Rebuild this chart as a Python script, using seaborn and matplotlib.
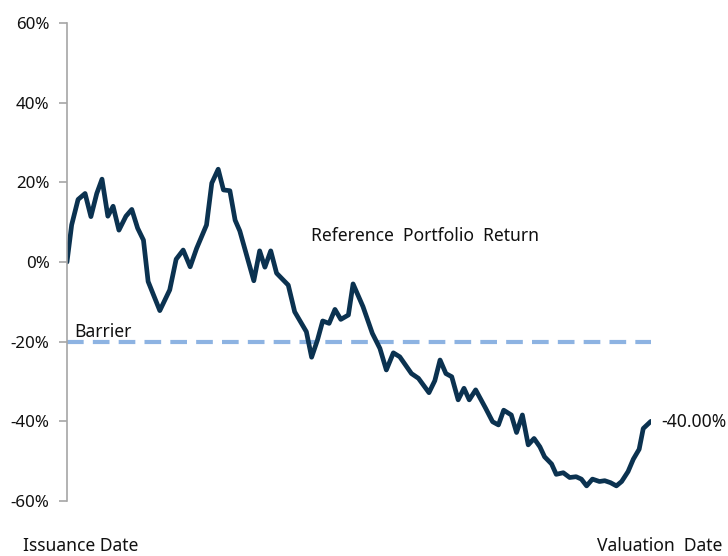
import matplotlib
matplotlib.use("Agg")
import matplotlib.pyplot as plt
import seaborn as sns
import pandas as pd
from matplotlib.ticker import FuncFormatter

# ---- data ----
days = [0, 0.8, 1.9, 3.1, 4.1, 5.1, 6.0, 7.0, 7.9, 8.9, 10.1, 11.1, 12.1, 13.1, 13.9,
        15.9, 17.6, 18.7, 19.9, 21.1, 22.2, 23.9, 24.8, 25.9, 26.8, 27.9, 28.8, 29.6,
        31.0, 32.0, 33.0, 33.9, 34.9, 35.9, 37.9, 39.0, 41.0, 41.9, 42.9, 43.8, 44.9,
        45.9, 46.9, 48.2, 49.0, 50.7, 52.3, 53.6, 54.7, 55.9, 57.0, 59.0, 60.2, 62.0,
        63.0, 63.9, 64.9, 65.9, 67.0, 68.0, 68.9, 70.0, 71.7, 72.9, 73.9, 74.8, 76.1,
        77.0, 78.0, 79.0, 80.0, 81.0, 81.8, 83.0, 83.8, 85.0, 86.1, 87.2, 88.1, 89.0,
        90.0, 91.2, 92.1, 93.1, 94.1, 95.0, 96.1, 97.0, 98.0, 98.7, 100]
returns = [0, 9.3, 15.7, 17.2, 11.4, 17.2, 20.8, 11.5, 14.0, 8.0, 11.5, 13.2, 8.5, 5.5, -4.9,
           -12.2, -7.0, 0.7, 3.0, -1.2, 3.4, 9.3, 19.8, 23.3, 18.1, 17.9, 10.5, 7.8,
           0.5, -4.7, 2.8, -1.3, 2.8, -2.8, -5.8, -12.5, -17.5, -23.9, -19.6, -14.8, -15.4,
           -11.9, -14.4, -13.3, -5.5, -11.2, -17.9, -21.7, -27.1, -22.8, -23.8, -28.0, -29.2, -32.8,
           -29.8, -24.6, -28.0, -28.8, -34.6, -31.7, -34.6, -32.1, -36.7, -40.1, -40.9, -37.2, -38.4,
           -42.8, -38.4, -45.9, -44.3, -46.4, -48.9, -50.7, -53.3, -52.9, -54.1, -53.9, -54.5, -56.2,
           -54.5, -55.1, -54.9, -55.4, -56.2, -55.1, -52.6, -49.5, -47.0, -41.8, -40.0]
barrier = -20
final_label = "-40.00%"
y_ticks = [-60, -40, -20, 0, 20, 40, 60]

df = pd.DataFrame({"day": days, "ret": returns})

sns.set_style("white")
plt.rcParams["font.family"] = ["Noto Sans", "DejaVu Sans"]

fig = plt.figure(figsize=(7.28, 5.56), dpi=100)
ax = fig.add_axes([0.092, 0.0989, 0.802, 0.8597])

ax.axhline(barrier, color="#8db3e2", lw=3, dashes=(4, 2.2), zorder=1)
sns.lineplot(data=df, x="day", y="ret", ax=ax, color="#0b3250", lw=3.4, zorder=2)

ax.set_xlim(0, 100)
ax.set_ylim(-60, 60)
ax.set_yticks(y_ticks)
ax.yaxis.set_major_formatter(FuncFormatter(lambda v, p: f"{v:.0f}%"))
ax.set_xticks([])
ax.set_xlabel("")
ax.set_ylabel("")
for s in ["top", "right", "bottom"]:
    ax.spines[s].set_visible(False)
ax.spines["left"].set_color("#a6a6a6")
ax.spines["left"].set_linewidth(1.2)
ax.tick_params(axis="y", direction="out", length=6, width=1.2, color="#a6a6a6",
               pad=6.5, labelsize=12.2, labelcolor="#111111", left=True)

fs = 12.6
ax.text(41.8, 6.5, "Reference  Portfolio  Return", fontsize=fs, va="center", ha="left", color="#111111")
ax.text(1.3, -17.6, "Barrier", fontsize=fs, va="center", ha="left", color="#111111")
ax.text(101.7, -40.2, final_label, fontsize=fs, va="center", ha="left", color="#111111", clip_on=False)

fig.text(23 / 728, 1 - 546 / 556, "Issuance Date", fontsize=fs, va="center", ha="left", color="#111111")
fig.text(722 / 728, 1 - 546 / 556, "Valuation  Date", fontsize=fs, va="center", ha="right", color="#111111")

fig.savefig("out.png", dpi=100)
